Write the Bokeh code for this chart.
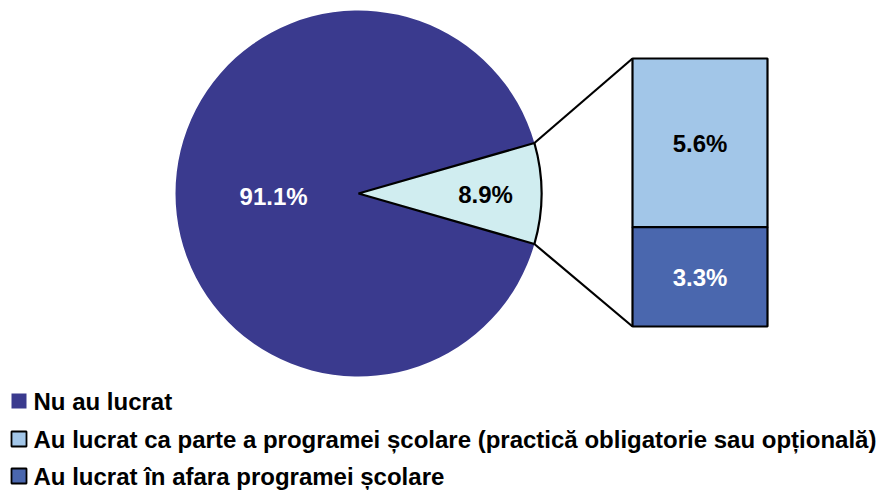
import math
from bokeh.plotting import figure
from bokeh.models import Range1d, ColumnDataSource
from bokeh.core.properties import value
from bokeh.embed import file_html
from bokeh.resources import INLINE

# ---- data ----
pie_labels = ["Nu au lucrat", "Au lucrat"]
pie_values = [91.1, 8.9]
bar_labels = ["Au lucrat ca parte a programei școlare (practică obligatorie sau opțională)",
              "Au lucrat în afara programei școlare"]
bar_values = [5.6, 3.3]
legend_labels = ["Nu au lucrat",
                 "Au lucrat ca parte a programei școlare (practică obligatorie sau opțională)",
                 "Au lucrat în afara programei școlare"]

C_DARK = "#3A3A8E"
C_SLICE = "#D0EDF0"
C_TOP = "#A2C6E8"
C_BOT = "#4A67AE"
FONT = value("Liberation Sans")

W, H = 882, 490
p = figure(width=W, height=H, output_backend="svg", toolbar_location=None,
           x_range=Range1d(0, W), y_range=Range1d(0, H), min_border=0)
p.axis.visible = False
p.grid.visible = False
p.outline_line_color = None
p.background_fill_color = "white"
p.border_fill_color = "white"

# ---- pie ----
cx, cy, R = 358, 297, 183
total = sum(pie_values)
small = pie_values[1] / total * 2 * math.pi
a0, a1 = -small / 2, small / 2
p.wedge(x=cx, y=cy, radius=R, start_angle=a1, end_angle=a0 + 2 * math.pi,
        fill_color=C_DARK, line_color=None)
p.wedge(x=cx, y=cy, radius=R, start_angle=a0, end_angle=a1,
        fill_color=C_SLICE, line_color="black", line_width=2.2)

# labels on pie
p.text(x=[cx - 0.464 * R], y=[cy - 3], text=[f"{pie_values[0]:.1f}%"],
       text_color="white", text_font=FONT, text_font_style="bold",
       text_font_size="24px", text_align="center", text_baseline="middle")
p.text(x=[cx + 0.694 * R], y=[cy - 1], text=[f"{pie_values[1]:.1f}%"],
       text_color="black", text_font=FONT, text_font_style="bold",
       text_font_size="24px", text_align="center", text_baseline="middle")

# ---- stacked bar ----
bx0, bx1 = 632, 767
by0, bh = 164, 268
scale = bh / sum(bar_values)
bottoms = [by0 + bar_values[1] * scale, by0]
tops = [by0 + sum(bar_values) * scale, by0 + bar_values[1] * scale]
src = ColumnDataSource(dict(left=[bx0, bx0], right=[bx1, bx1], bottom=bottoms, top=tops,
                            color=[C_TOP, C_BOT]))
p.quad(left="left", right="right", bottom="bottom", top="top", fill_color="color",
       line_color="black", line_width=2.2, source=src)
p.text(x=[(bx0 + bx1) / 2] * 2, y=[(b + t) / 2 - 1 for b, t in zip(bottoms, tops)],
       text=[f"{v:.1f}%" for v in bar_values], text_color=["black", "white"],
       text_font=FONT, text_font_style="bold", text_font_size="24px",
       text_align="center", text_baseline="middle")

# connector lines
ex = cx + R * math.cos(a1)
ey_top = cy + R * math.sin(a1)
ey_bot = cy + R * math.sin(a0)
p.segment(x0=[ex, ex], y0=[ey_top, ey_bot], x1=[bx0, bx0], y1=[tops[0], bottoms[1]],
          line_color="black", line_width=2.2)

# ---- legend ----
ly = [89.5, 51.5, 14.5]
lcol = [C_DARK, C_TOP, C_BOT]
lline = [None, "black", "black"]
for y, c, lc, t in zip(ly, lcol, lline, legend_labels):
    p.rect(x=[18.5], y=[y], width=15, height=15, fill_color=c, line_color=lc,
           line_width=1.8 if lc else 0)
    p.text(x=[33], y=[y], text=[t], text_color="black", text_font=FONT,
           text_font_style="bold", text_font_size="24px", text_align="left",
           text_baseline="middle")

open("out.html", "w").write(file_html(p, INLINE))
